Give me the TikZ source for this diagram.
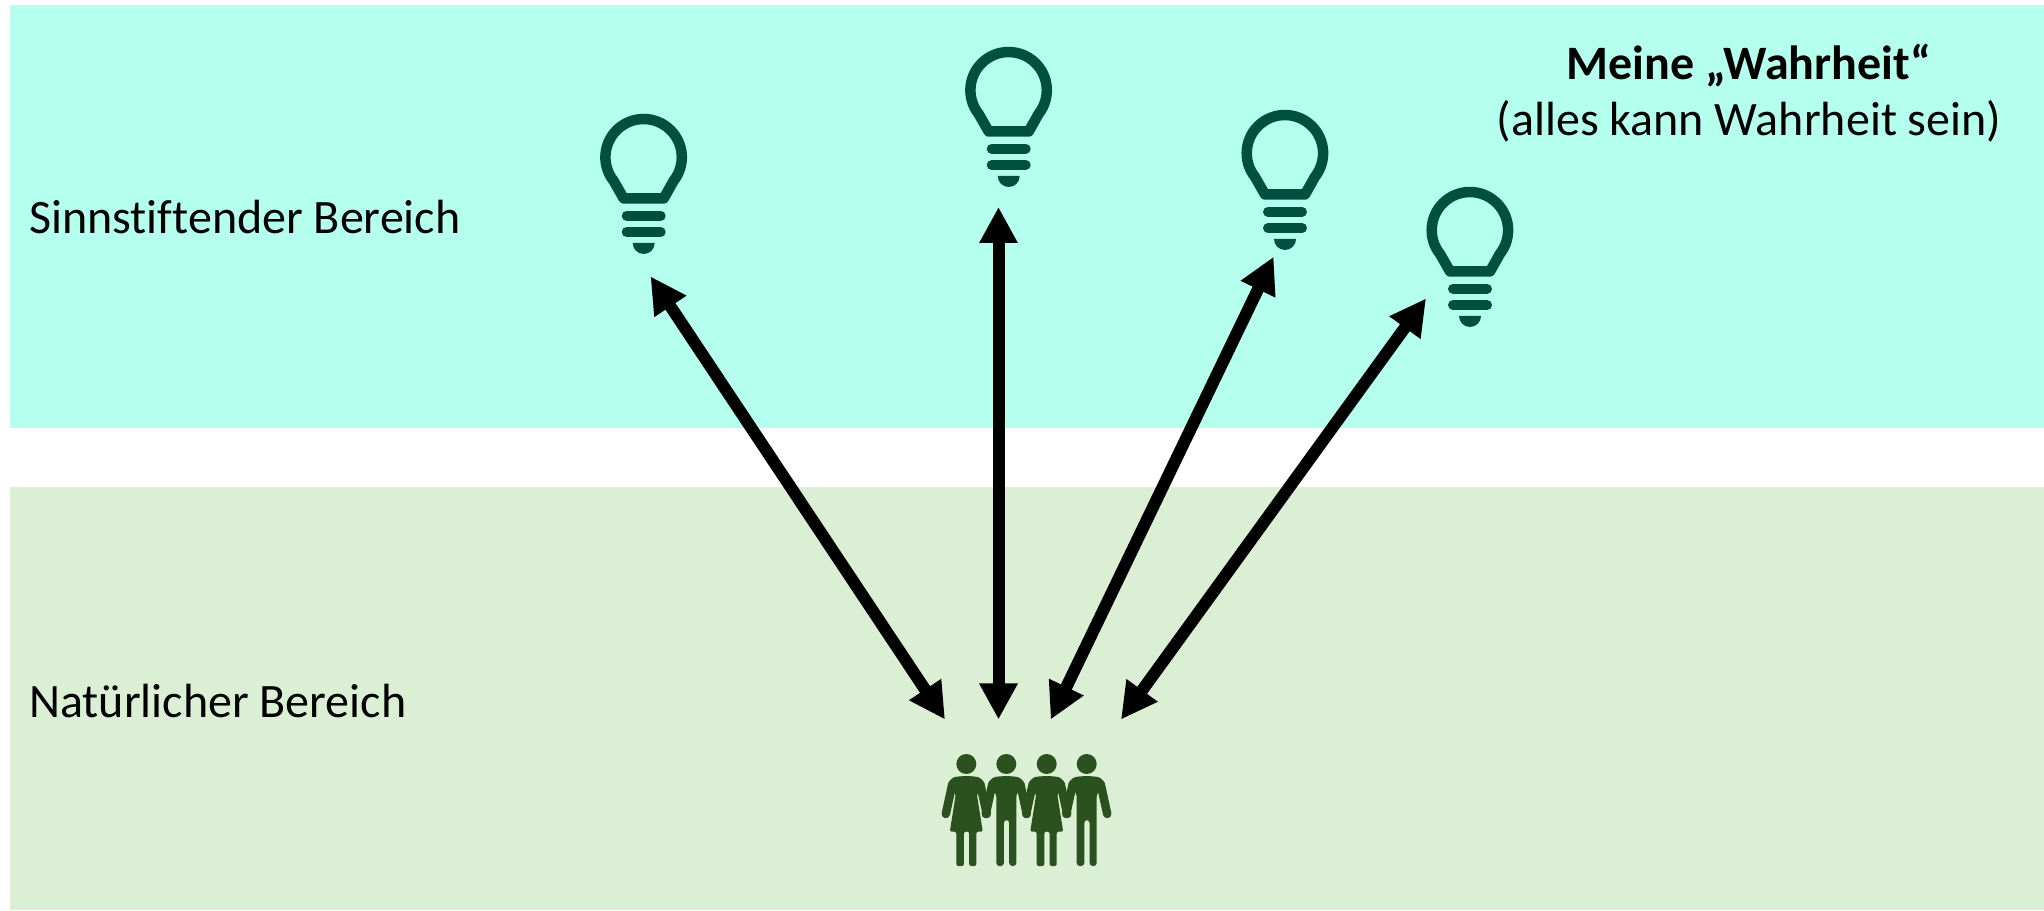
\documentclass[tikz,border=0pt]{standalone}
\usepackage{fontspec}
\setmainfont[RawFeature={-liga}]{Carlito}
\usetikzlibrary{arrows.meta}
\definecolor{mintband}{HTML}{B4FFED}
\definecolor{greenband}{HTML}{DBEFD5}
\definecolor{bulbcol}{HTML}{00503F}
\definecolor{peoplecol}{HTML}{2B511E}
\tikzset{
  labeltext/.style={inner sep=0pt,font=\fontsize{48}{56}\selectfont},
  twoway/.style={line width=12pt,{Triangle[length=36pt,width=36pt]}-{Triangle[length=36pt,width=36pt]}},
  bulb/.pic={
    \draw[bulbcol,line width=10.5pt,line join=round] (-20,-41.5) -- (-30,-24) arc[start angle=218.5,end angle=-38.5,radius=38.2] -- (20,-41.5) -- cycle;
    \draw[bulbcol,line width=10pt,line cap=round] (-17,-58.7) -- (17,-58.7);
    \draw[bulbcol,line width=10pt,line cap=round] (-17,-75) -- (17,-75);
    \fill[bulbcol] (-11,-86) -- (11,-86) arc[start angle=0,end angle=-180,radius=11] -- cycle;
  },
  man/.pic={
    \fill[peoplecol] (0,0) circle[radius=10];
    \fill[peoplecol,rounded corners=3pt] (-10,-102) -- (-2.4,-102) -- (-2.4,-56) -- (2.9,-56) -- (2.9,-102) -- (10,-102) -- (10,-30) -- (18.5,-20) -- (14,-13.5) -- (6,-12.2) -- (-6,-12.2) -- (-14,-13.5) -- (-18.5,-20) -- (-10,-30) -- cycle;
    \draw[peoplecol,line width=8.5pt,line cap=round,line join=round] (-14,-20) -- (-20.5,-50);
    \draw[peoplecol,line width=8.5pt,line cap=round,line join=round] (14,-20) -- (20.5,-50);
  },
  woman/.pic={
    \fill[peoplecol] (0,0) circle[radius=10];
    \fill[peoplecol,rounded corners=2pt] (-10,-102) -- (-2.4,-102) -- (-2.4,-67.7) -- (2.9,-67.7) -- (2.9,-102) -- (10,-102) -- (10,-67.7) -- (16.5,-67.7) -- (10.5,-30) -- (18.5,-20) -- (14,-13.5) -- (6,-12.2) -- (-6,-12.2) -- (-14,-13.5) -- (-18.5,-20) -- (-10.5,-30) -- (-16.5,-67.7) -- (-10,-67.7) -- cycle;
    \draw[peoplecol,line width=8.5pt,line cap=round,line join=round] (-14,-20) -- (-20.5,-50);
    \draw[peoplecol,line width=8.5pt,line cap=round,line join=round] (14,-20) -- (20.5,-50);
  }
}
\begin{document}
\begin{tikzpicture}[x=1pt,y=1pt]
\useasboundingbox (0,0) rectangle (2044,910);
\fill[mintband] (10,482) rectangle (2044,905);
\fill[greenband] (10,0) rectangle (2044,423);
\node[labeltext,anchor=base west] (sinn) at (29,676) {Sinnstiftender Bereich};
\node[labeltext,anchor=base west] (nat) at (29,192.5) {Natürlicher Bereich};
\node[labeltext,anchor=base] (meine) at (1749,830) {\textbf{Meine „Wahrheit“}};
\node[labeltext,anchor=base] (alles) at (1749,774) {(alles kann Wahrheit sein)};
\pic at (643.7,753) {bulb};
\pic at (1008.7,820) {bulb};
\pic at (1285,757) {bulb};
\pic at (1470,680) {bulb};
\pic at (966.3,146) {woman};
\pic at (1006.3,146) {man};
\pic at (1046.7,146) {woman};
\pic at (1086.7,146) {man};
\coordinate (b1) at (650.5,633.6);
\coordinate (b2) at (998.5,703);
\coordinate (b3) at (1273.6,653.2);
\coordinate (b4) at (1426,611.5);
\coordinate (p1) at (945,190.5);
\coordinate (p2) at (998.5,190.5);
\coordinate (p3) at (1050.7,190.5);
\coordinate (p4) at (1121,190.5);
\draw[twoway] (b1) -- (p1);
\draw[twoway] (b2) -- (p2);
\draw[twoway] (b3) -- (p3);
\draw[twoway] (b4) -- (p4);
\end{tikzpicture}
\end{document}
